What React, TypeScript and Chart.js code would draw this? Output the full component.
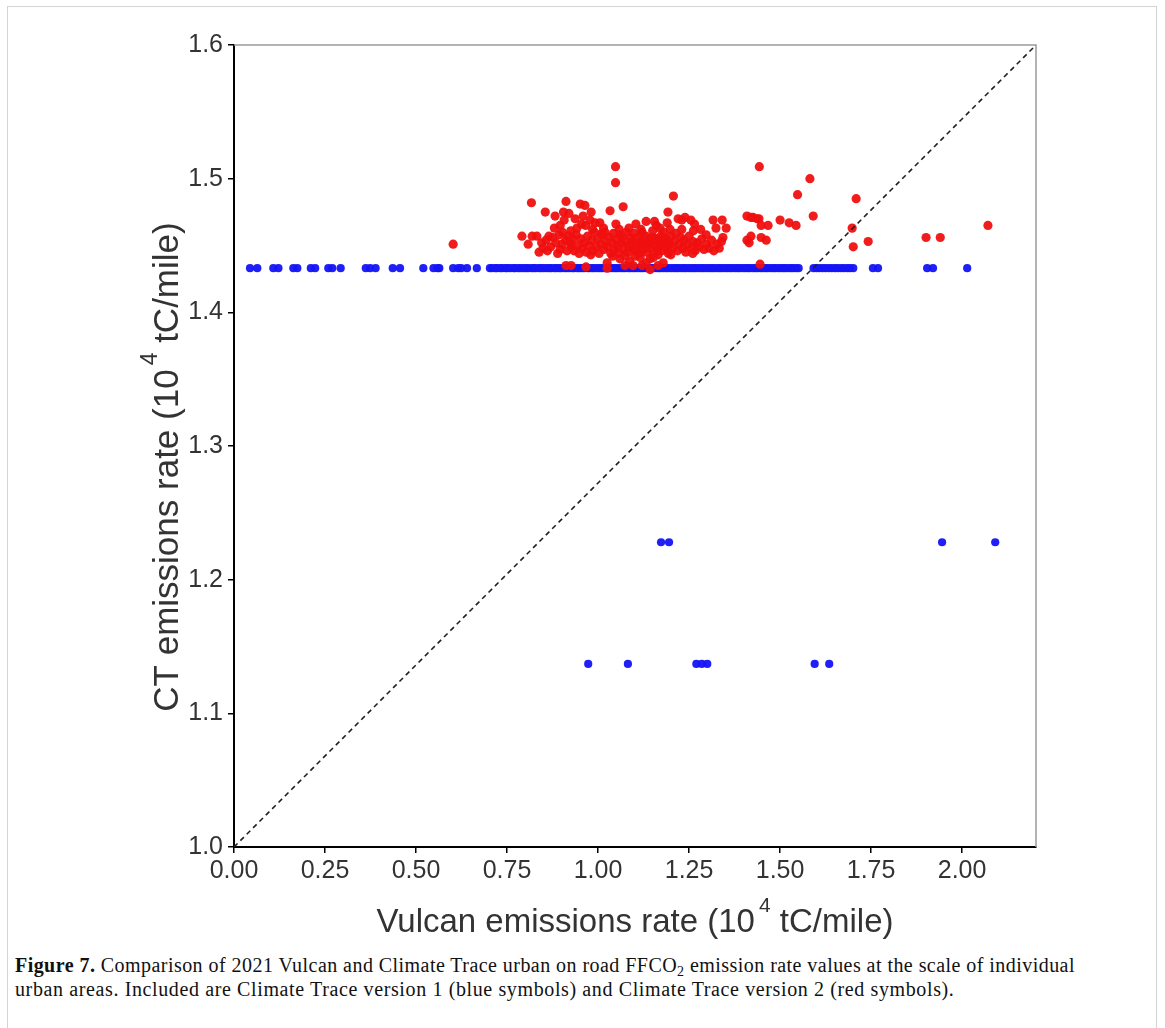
import React, { useEffect, useRef } from "react";
import { Chart, registerables } from "chart.js";

Chart.register(...registerables);

// ---------- data ----------
const xTickValues = [0, 0.25, 0.5, 0.75, 1.0, 1.25, 1.5, 1.75, 2.0];
const yTickValues = [1.0, 1.1, 1.2, 1.3, 1.4, 1.5, 1.6];
const xRange = [0, 2.203];
const yRange = [1.0, 1.6];

// Climate Trace version 1 (blue) – main row at a constant CT value
const ctV1RowValue = 1.433;
const ctV1RowVulcan = [
  0.044, 0.064, 0.108, 0.122, 0.163, 0.174, 0.211, 0.223, 0.259, 0.27, 0.293, 0.362, 0.374, 0.389, 0.436, 0.456,
  0.52, 0.548, 0.559, 0.564, 0.602, 0.616, 0.624, 0.64, 0.667,
  0.703, 0.709, 0.718, 0.722, 0.731, 0.737, 0.746, 0.751, 0.759, 0.768, 0.772, 0.781, 0.787, 0.795, 0.802, 0.808,
  0.817, 0.823, 0.829, 0.838, 0.844, 0.851, 0.859, 0.866, 0.871, 0.88, 0.886, 0.894, 0.899, 0.908, 0.914, 0.921,
  0.929, 0.934, 0.943, 0.949, 0.956, 0.962, 0.971, 0.977, 0.984, 0.99, 0.998, 1.005, 1.011, 1.019, 1.026, 1.032,
  1.04, 1.047, 1.053, 1.061, 1.068, 1.074, 1.083, 1.089, 1.096, 1.102, 1.11, 1.117, 1.123, 1.131, 1.138, 1.145,
  1.151, 1.159, 1.166, 1.172, 1.18, 1.187, 1.193, 1.201, 1.208, 1.215, 1.221, 1.229, 1.236, 1.242, 1.25, 1.257,
  1.264, 1.27, 1.278, 1.285, 1.291, 1.299, 1.306, 1.313, 1.319, 1.327, 1.334, 1.34, 1.348, 1.355, 1.362, 1.368,
  1.376, 1.383, 1.389, 1.397, 1.404, 1.411, 1.417, 1.425, 1.432, 1.438, 1.446, 1.453, 1.46, 1.466, 1.474, 1.481,
  1.487, 1.495, 1.502, 1.509, 1.515, 1.523, 1.53, 1.536, 1.544, 1.551,
  1.592, 1.6, 1.608, 1.617, 1.625, 1.634, 1.642, 1.651, 1.659, 1.668, 1.676, 1.685, 1.692, 1.701,
  1.755, 1.769, 1.904, 1.92, 2.014,
];
// Climate Trace version 1 (blue) – the few lower points [Vulcan, CT]
const ctV1Lower: [number, number][] = [
  [1.173, 1.228], [1.195, 1.228], [1.945, 1.228], [2.091, 1.228],
  [0.973, 1.137], [1.082, 1.137], [1.27, 1.137], [1.285, 1.137], [1.3, 1.137], [1.595, 1.137], [1.635, 1.137],
];

// Climate Trace version 2 (red) [Vulcan, CT]
const ctV2Points: [number, number][] = [
  [0.602, 1.451],
  [0.791, 1.457], [0.808, 1.451], [0.817, 1.482], [0.819, 1.457], [0.832, 1.457], [0.849, 1.448], [0.855, 1.475],
  [0.857, 1.454], [0.865, 1.457], [0.876, 1.456], [0.882, 1.472], [0.88, 1.463], [0.896, 1.465], [0.896, 1.447],
  [0.905, 1.475], [0.907, 1.469], [0.912, 1.483], [0.911, 1.454], [0.92, 1.474], [0.926, 1.449], [0.931, 1.455],
  [0.937, 1.47], [0.942, 1.463], [0.951, 1.481], [0.959, 1.472], [0.964, 1.48], [0.981, 1.475], [0.978, 1.469],
  [0.955, 1.466], [0.966, 1.465], [0.992, 1.467], [1.005, 1.467], [1.033, 1.476], [1.069, 1.479], [1.049, 1.466],
  [1.048, 1.509], [1.048, 1.497], [1.06, 1.458],
  [1.104, 1.466], [1.132, 1.468], [1.155, 1.468], [1.19, 1.467], [1.192, 1.475], [1.207, 1.487], [1.22, 1.47],
  [1.23, 1.469], [1.239, 1.471], [1.255, 1.469], [1.282, 1.462], [1.297, 1.458], [1.316, 1.469], [1.324, 1.463],
  [1.341, 1.469], [1.343, 1.456], [1.352, 1.463], [1.198, 1.462], [1.17, 1.463], [1.409, 1.472], [1.409, 1.454],
  [1.415, 1.452], [1.42, 1.471], [1.426, 1.471], [1.437, 1.47], [1.442, 1.47], [1.443, 1.509], [1.448, 1.465],
  [1.448, 1.456], [1.462, 1.454], [1.467, 1.465], [1.42, 1.457], [1.5, 1.469], [1.525, 1.467], [1.544, 1.465],
  [1.548, 1.488], [1.582, 1.5], [1.591, 1.472], [1.698, 1.463], [1.701, 1.449], [1.709, 1.485], [1.742, 1.453],
  [1.901, 1.456], [1.94, 1.456], [2.071, 1.465], [1.445, 1.436],
  [0.912, 1.435], [0.926, 1.435], [0.967, 1.434], [1.025, 1.437], [1.025, 1.433], [1.06, 1.44], [1.074, 1.435],
  [1.096, 1.435], [1.121, 1.435], [1.132, 1.437], [1.143, 1.432], [1.165, 1.435], [1.101, 1.442], [1.143, 1.44],
  [1.165, 1.443], [1.19, 1.447], [1.179, 1.437], [1.087, 1.438],
  [0.838, 1.445], [0.845, 1.452], [0.861, 1.446], [0.87, 1.449], [0.884, 1.452], [0.889, 1.444], [0.893, 1.458],
  [0.901, 1.451], [0.915, 1.446], [0.918, 1.457], [0.923, 1.452], [0.934, 1.446], [0.94, 1.458], [0.944, 1.45],
  [0.948, 1.444], [0.953, 1.455], [0.957, 1.448], [0.962, 1.452], [0.968, 1.445], [0.971, 1.457], [0.975, 1.45],
  [0.983, 1.454], [0.986, 1.446], [0.99, 1.46], [0.995, 1.449], [0.999, 1.455], [1.003, 1.444], [1.008, 1.451],
  [1.012, 1.458], [1.016, 1.447], [1.019, 1.46], [1.021, 1.453], [1.027, 1.449], [1.031, 1.456], [1.035, 1.444],
  [1.038, 1.452], [1.042, 1.459], [1.045, 1.447], [1.051, 1.454], [1.054, 1.449], [1.057, 1.444], [1.063, 1.452],
  [1.066, 1.457], [1.071, 1.447], [1.075, 1.453], [1.078, 1.46], [1.081, 1.445], [1.084, 1.45], [1.089, 1.456],
  [1.092, 1.448], [1.095, 1.453], [1.099, 1.459], [1.102, 1.446], [1.106, 1.451], [1.109, 1.456], [1.113, 1.444],
  [1.116, 1.449], [1.119, 1.454], [1.121, 1.46], [1.124, 1.447], [1.127, 1.452], [1.131, 1.457], [1.134, 1.445],
  [1.137, 1.45], [1.14, 1.455], [1.144, 1.448], [1.147, 1.453], [1.151, 1.456], [1.154, 1.444], [1.158, 1.45],
  [1.161, 1.455], [1.164, 1.447], [1.168, 1.452], [1.172, 1.457], [1.175, 1.446], [1.178, 1.451], [1.182, 1.456],
  [1.186, 1.449], [1.189, 1.454], [1.193, 1.444], [1.197, 1.451], [1.201, 1.457], [1.205, 1.448], [1.21, 1.453],
  [1.214, 1.459], [1.218, 1.446], [1.223, 1.451], [1.227, 1.456], [1.232, 1.448], [1.236, 1.454], [1.241, 1.445],
  [1.246, 1.451], [1.25, 1.457], [1.256, 1.448], [1.261, 1.453], [1.267, 1.446], [1.272, 1.452], [1.278, 1.449],
  [1.285, 1.455], [1.291, 1.447], [1.298, 1.451], [1.305, 1.448], [1.312, 1.454], [1.318, 1.446], [1.326, 1.451],
  [1.333, 1.448], [1.339, 1.453],
  [1.04, 1.442], [1.116, 1.441], [1.152, 1.441], [1.2, 1.443], [0.98, 1.443], [1.26, 1.444], [1.075, 1.442],
  [0.985, 1.462], [1.015, 1.463], [1.058, 1.462], [1.085, 1.463], [1.118, 1.462], [1.15, 1.461], [1.18, 1.46],
  [1.23, 1.462], [1.262, 1.461], [1.01, 1.459], [0.925, 1.461], [0.902, 1.46], [1.265, 1.466], [1.16, 1.465],
];

// 1:1 reference line (corner to corner of the plotted box)
const referenceLine: [number, number][] = [
  [0, 1.0],
  [2.203, 1.6],
];

const xTitle = { before: "Vulcan emissions rate (10", sup: "4", after: " tC/mile)" };
const yTitle = { before: "CT emissions rate (10", sup: "4", after: " tC/mile)" };

// ---------- layout constants ----------
const CANVAS_W = 1165;
const CANVAS_H = 945;
const AREA_LEFT = 234;
const AREA_TOP = 45;
const AREA_RIGHT = 1036;
const AREA_BOTTOM = 847;
const SANS = '"Liberation Sans", Arial, sans-serif';

function drawSupText(
  ctx: CanvasRenderingContext2D,
  t: { before: string; sup: string; after: string },
  cx: number,
  baseline: number,
  rotate: boolean,
  size: number
) {
  const mainFont = `${size}px ${SANS}`;
  const supFont = `${Math.round(size * 0.65)}px ${SANS}`;
  ctx.save();
  ctx.fillStyle = "#333";
  ctx.textBaseline = "alphabetic";
  ctx.textAlign = "left";
  ctx.font = mainFont;
  const w1 = ctx.measureText(t.before).width;
  const w3 = ctx.measureText(t.after).width;
  ctx.font = supFont;
  const w2 = ctx.measureText(t.sup).width;
  const gap = 4;
  const total = w1 + gap + w2 + w3;
  if (rotate) {
    ctx.translate(baseline, cx);
    ctx.rotate(-Math.PI / 2);
  } else {
    ctx.translate(cx, baseline);
  }
  let x = -total / 2;
  ctx.font = mainFont;
  ctx.fillText(t.before, x, 0);
  x += w1 + gap;
  ctx.font = supFont;
  ctx.fillText(t.sup, x, -size * 0.6);
  x += w2;
  ctx.font = mainFont;
  ctx.fillText(t.after, x, 0);
  ctx.restore();
}

const framePlugin = {
  id: "frameAndTitles",
  beforeDatasetsDraw(chart: any) {
    const { ctx, chartArea } = chart;
    ctx.save();
    ctx.strokeStyle = "#9a9a9a";
    ctx.lineWidth = 1.5;
    ctx.beginPath();
    ctx.moveTo(chartArea.left, chartArea.top);
    ctx.lineTo(chartArea.right, chartArea.top);
    ctx.lineTo(chartArea.right, chartArea.bottom);
    ctx.stroke();
    ctx.restore();
  },
  afterDraw(chart: any) {
    const { ctx } = chart;
    drawSupText(ctx, xTitle, 635, 932, false, 33);
    drawSupText(ctx, yTitle, 467, 178, true, 35);
  },
};

export default function App() {
  const ref = useRef<HTMLCanvasElement | null>(null);

  useEffect(() => {
    if (!ref.current) return;
    const chart = new Chart(ref.current, {
      type: "scatter",
      data: {
        datasets: [
          {
            type: "line",
            label: "1:1",
            data: referenceLine.map(([x, y]) => ({ x, y })),
            borderColor: "#222",
            borderWidth: 1.6,
            borderDash: [5, 4],
            pointRadius: 0,
            fill: false,
          } as any,
          {
            label: "Climate Trace version 2",
            data: ctV2Points.map(([x, y]) => ({ x, y })),
            backgroundColor: "rgba(240,16,16,0.95)",
            borderColor: "rgba(240,16,16,0.95)",
            borderWidth: 0,
            pointRadius: 4.6,
          },
          {
            label: "Climate Trace version 1",
            data: [
              ...ctV1RowVulcan.map((x) => ({ x, y: ctV1RowValue })),
              ...ctV1Lower.map(([x, y]) => ({ x, y })),
            ],
            backgroundColor: "rgba(20,20,245,0.95)",
            borderColor: "rgba(20,20,245,0.95)",
            borderWidth: 0,
            pointRadius: 4.1,
          },
        ],
      },
      options: {
        responsive: false,
        animation: false,
        layout: {
          padding: { left: 0, top: AREA_TOP, right: CANVAS_W - AREA_RIGHT, bottom: 0 },
        },
        plugins: {
          legend: { display: false },
          tooltip: { enabled: false },
          title: { display: false },
        },
        scales: {
          x: {
            type: "linear",
            min: xRange[0],
            max: xRange[1],
            afterBuildTicks: (scale: any) => {
              scale.ticks = xTickValues.map((v) => ({ value: v }));
            },
            afterFit: (scale: any) => {
              scale.height = CANVAS_H - AREA_BOTTOM;
            },
            ticks: {
              color: "#333",
              font: { family: SANS, size: 25 },
              padding: 3,
              maxRotation: 0,
              callback: (v: any) => Number(v).toFixed(2),
            },
            grid: {
              display: true,
              drawOnChartArea: false,
              drawTicks: true,
              tickLength: 6,
              color: "#000",
              lineWidth: 1.5,
            },
            border: { display: true, color: "#000", width: 2 },
            title: { display: false },
          },
          y: {
            type: "linear",
            min: yRange[0],
            max: yRange[1],
            afterBuildTicks: (scale: any) => {
              scale.ticks = yTickValues.map((v) => ({ value: v }));
            },
            afterFit: (scale: any) => {
              scale.width = AREA_LEFT;
            },
            ticks: {
              color: "#333",
              font: { family: SANS, size: 25 },
              padding: 5,
              callback: (v: any) => Number(v).toFixed(1),
            },
            grid: {
              display: true,
              drawOnChartArea: false,
              drawTicks: true,
              tickLength: 6,
              color: "#000",
              lineWidth: 1.5,
            },
            border: { display: true, color: "#000", width: 2 },
            title: { display: false },
          },
        },
      },
      plugins: [framePlugin],
    });
    return () => chart.destroy();
  }, []);

  return (
    <div style={{ position: "absolute", left: 0, top: 0, width: CANVAS_W, height: 1028, background: "#fff", overflow: "hidden" }}>
      <div
        style={{
          position: "absolute",
          left: 7,
          top: 6,
          width: 1150,
          height: 1040,
          border: "1px solid #d4d4d4",
          boxSizing: "border-box",
        }}
      />
      <canvas
        ref={ref}
        width={CANVAS_W}
        height={CANVAS_H}
        style={{ position: "absolute", left: 0, top: 0, width: CANVAS_W, height: CANVAS_H, display: "block" }}
      />
      <div
        style={{
          position: "absolute",
          left: 15,
          top: 953,
          font: '20px "Liberation Serif", "Times New Roman", serif',
          letterSpacing: "0.45px",
          lineHeight: "24px",
          whiteSpace: "nowrap",
          color: "#111",
        }}
      >
        <b>Figure 7.</b> Comparison of 2021 Vulcan and Climate Trace urban on road FFCO
        <sub style={{ fontSize: "0.7em", verticalAlign: "-0.25em", lineHeight: 0 }}>2</sub> emission rate values at the
        scale of individual
        <br />
        <span style={{ letterSpacing: "0.62px" }}>
          urban areas. Included are Climate Trace version 1 (blue symbols) and Climate Trace version 2 (red symbols).
        </span>
      </div>
    </div>
  );
}
